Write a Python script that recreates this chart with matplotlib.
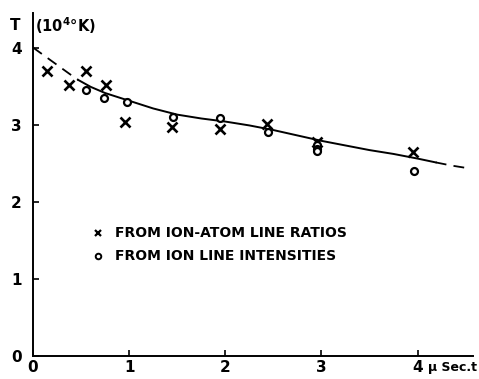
import numpy as np
import matplotlib.pyplot as plt

# data (t in micro sec, T in 10^4 K)
cross_t = [0.15, 0.37, 0.55, 0.76, 0.96, 1.45, 1.95, 2.43, 2.95, 3.95]
cross_T = [3.69, 3.51, 3.70, 3.51, 3.03, 2.97, 2.94, 3.01, 2.77, 2.65]

circ_t = [0.55, 0.74, 0.98, 1.46, 1.94, 2.44, 2.95, 2.95, 2.95, 3.96]
circ_T = [3.45, 3.35, 3.30, 3.10, 3.08, 2.90, 2.73, 2.69, 2.66, 2.40]

# fitted curve (dashed at both ends)
fit_t = [0.0, 0.1, 0.2, 0.3, 0.4, 0.47, 0.6, 0.75, 0.9, 1.0, 1.25, 1.5, 1.75, 2.0,
         2.25, 2.5, 2.75, 3.0, 3.25, 3.5, 3.75, 4.0, 4.19, 4.35, 4.5]
fit_T = [4.0, 3.91, 3.82, 3.73, 3.64, 3.58, 3.49, 3.41, 3.35, 3.31, 3.21, 3.13, 3.08, 3.04,
         2.99, 2.93, 2.86, 2.79, 2.73, 2.67, 2.62, 2.56, 2.51, 2.47, 2.44]
solid_from, solid_to = 0.47, 4.19

xticks = [0, 1, 2, 3, 4]
yticks = [0, 1, 2, 3, 4]

plt.rcParams['font.family'] = ['DejaVu Sans']
plt.rcParams['font.weight'] = 'bold'

fig = plt.figure(figsize=(4.79, 3.79), dpi=100)
ax = fig.add_axes([0.069, 0.061, 0.919, 0.905])

fit_t = np.array(fit_t)
fit_T = np.array(fit_T)
solid = (fit_t >= solid_from) & (fit_t <= solid_to)
head = fit_t <= solid_from
tail = fit_t >= solid_to
ax.plot(fit_t[solid], fit_T[solid], color='black', lw=1.4)
ax.plot(fit_t[head], fit_T[head], color='black', lw=1.3, dashes=(6, 4))
ax.plot(fit_t[tail], fit_T[tail], color='black', lw=1.3, dashes=(6, 4))

ax.plot(cross_t, cross_T, 'x', color='black', ms=6.5, mew=1.9, zorder=3)
ax.plot(circ_t, circ_T, 'o', color='black', mfc='white', ms=5, mew=1.6, zorder=4)

ax.set_xlim(0, 4.58)
ax.set_ylim(0, 4.45)
ax.set_xticks(xticks)
ax.set_yticks(yticks)
ax.set_xticklabels([str(v) for v in xticks], fontsize=11, fontweight='bold')
ax.set_yticklabels([str(v) for v in yticks], fontsize=11, fontweight='bold')
ax.tick_params(direction='in', length=4, width=1.2, pad=8)
ax.tick_params(axis='x', pad=3)
for s in ['top', 'right']:
    ax.spines[s].set_visible(False)
for s in ['left', 'bottom']:
    ax.spines[s].set_linewidth(1.4)

# axis labels
fig.text(15 / 479, 1 - 26 / 379, 'T', fontsize=11, fontweight='bold', ha='center', va='center')
fig.text(35 / 479, 1 - 26 / 379, '(10$^{\\mathbf{4}}$°K)', fontsize=10.5, fontweight='bold',
         ha='left', va='center')
ax.text(4.11, -0.07, 'μ Sec.t', fontsize=9, fontweight='bold', ha='left', va='top')

# legend
ax.plot([0.68], [1.60], 'x', color='black', ms=5, mew=1.6)
ax.text(0.85, 1.60, 'FROM ION-ATOM LINE RATIOS', fontsize=10, fontweight='bold', va='center')
ax.plot([0.68], [1.29], 'o', color='black', mfc='white', ms=4, mew=1.4)
ax.text(0.85, 1.29, 'FROM ION LINE INTENSITIES', fontsize=10, fontweight='bold', va='center')

plt.savefig('out.png', dpi=100)
